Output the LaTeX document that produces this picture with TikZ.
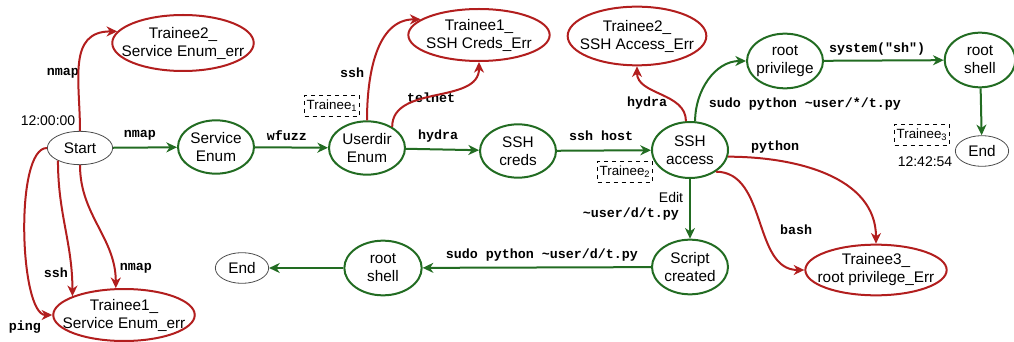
\documentclass[tikz,border=0pt]{standalone}
\usepackage{fontspec}
\setmainfont{Liberation Sans}
\setmonofont{Liberation Mono}
\usepackage{tikz}
\usetikzlibrary{positioning}
\usetikzlibrary{shapes.geometric}
\usetikzlibrary{arrows.meta}
\definecolor{errred}{RGB}{178,30,30}
\definecolor{okgreen}{RGB}{34,108,34}

\begin{document}
\begin{tikzpicture}[x=0.75pt, y=0.75pt,
    every node/.style={font=\fontsize{11.5}{13.5}\selectfont},
    okstate/.style={ellipse, draw=okgreen, line width=1.5pt, align=center, inner ysep=0pt, inner xsep=-4pt, minimum width=57pt, minimum height=40pt},
    errstate/.style={ellipse, draw=errred, line width=1.5pt, align=center, inner ysep=0pt, inner xsep=-8.5pt, minimum width=106pt, minimum height=40pt},
    endstate/.style={ellipse, draw=black!70, line width=0.6pt, inner sep=0pt, minimum width=40pt, minimum height=23pt},
    cmd/.style={font=\fontsize{10}{12}\selectfont\ttfamily\bfseries, inner sep=1pt},
    who/.style={draw, dashed, line width=0.5pt, font=\fontsize{10}{12}\selectfont, inner sep=1.5pt, minimum width=40pt, minimum height=16pt},
    good/.style={draw=okgreen, line width=1.5pt, -{Stealth[length=8pt, width=7.5pt, inset=2.5pt]}},
    bad/.style={draw=errred, line width=1.5pt, -{Stealth[length=8pt, width=7.5pt, inset=2.5pt]}}]

    \useasboundingbox (0,0) rectangle (1014,-342);

    % Nodes
    \node at (80,-148) (start) [endstate, minimum width=49pt, minimum height=25pt] {Start};
    \node at (216,-147) (senum) [okstate] {Service\\Enum};
    \node at (367,-148) (udenum) [okstate] {Userdir\\Enum};
    \node at (518,-151) (sshcreds) [okstate] {SSH\\creds};
    \node at (690,-150) (sshaccess) [okstate, minimum height=42pt] {SSH\\access};
    \node at (785,-61) (rootpriv) [okstate, minimum height=41pt] {root\\privilege};
    \node at (980,-60) (rootsh) [okstate, minimum width=53pt, minimum height=41pt] {root\\shell};
    \node at (982,-151) (endtop) [endstate] {End};
    \node at (690,-267) (script) [okstate, minimum height=41pt] {Script\\created};
    \node at (383,-268) (rootshb) [okstate, minimum width=58pt, minimum height=41pt] {root\\shell};
    \node at (242,-268) (endb) [endstate] {End};

    \node at (183,-43) (errsenumt) [errstate, minimum height=42pt] {Trainee2\_\\Service Enum\_err};
    \node at (124,-315) (errsenumb) [errstate, minimum height=39pt] {Trainee1\_\\Service Enum\_err};
    \node at (479,-35) (errcreds) [errstate, minimum height=39pt] {Trainee1\_\\SSH Creds\_Err};
    \node at (637,-36) (erraccess) [errstate, minimum width=104pt, minimum height=44pt] {Trainee2\_\\SSH Access\_Err};
    \node at (876,-270) (errroot) [errstate, minimum height=38pt] {Trainee3\_\\root privilege\_Err};

    % Times and trainees
    \node at (48,-121) (tstart) {\fontsize{10.5}{12}\selectfont 12:00:00};
    \node at (925,-162) (tend) {\fontsize{10.5}{12}\selectfont 12:42:54};
    \node at (332,-106) (who1) [who] {Trainee\textsubscript{1}};
    \node at (625,-172) (who2) [who] {Trainee\textsubscript{2}};
    \node at (922,-135) (who3) [who] {Trainee\textsubscript{3}};

    % Labels
    \node at (63,-73) (nmapup) [cmd] {nmap};
    \node at (140,-135) (nmapmain) [cmd] {nmap};
    \node at (287,-136) (wfuzz) [cmd] {wfuzz};
    \node at (352,-73) (sshup) [cmd] {ssh};
    \node at (431,-98) (telnet) [cmd] {telnet};
    \node at (438,-136) (hydramain) [cmd] {hydra};
    \node at (601,-136) (sshhost) [cmd] {ssh host};
    \node at (647,-103) (hydraup) [cmd] {hydra};
    \node at (805,-104) (sudostar) [cmd] {sudo python \textasciitilde user/*/t.py};
    \node at (877,-49) (system) [cmd] {system("sh")};
    \node at (775,-147) (python) [cmd] {python};
    \node at (796,-230) (bash) [cmd] {bash};
    \node at (671,-197) (edit) {\fontsize{10.5}{12}\selectfont Edit};
    \node at (631,-214) (editpath) [cmd] {\textasciitilde user/d/t.py};
    \node at (542,-255) (sudod) [cmd] {sudo python \textasciitilde user/d/t.py};
    \node at (56,-273) (sshdown) [cmd] {ssh};
    \node at (136,-268) (nmapdown) [cmd] {nmap};
    \node at (25,-327) (ping) [cmd] {ping};

    % Arrows
    \draw[good] (start) -- (senum);
    \draw[good] (senum) -- (udenum);
    \draw[good] (udenum) -- (sshcreds);
    \draw[good] (sshcreds) -- (sshaccess);
    \draw[good] (sshaccess.80) to[out=90, in=180] (rootpriv.west);
    \draw[good] (rootpriv) -- (rootsh);
    \draw[good] (rootsh) -- (endtop);
    \draw[good] (sshaccess) -- (script);
    \draw[good] (script) -- (rootshb);
    \draw[good] (rootshb) -- (endb);

    \draw[bad] (start.north) to[out=90, in=180, looseness=1.2] (errsenumt.170);
    \draw[bad] (start.south) to[out=-90, in=90] (errsenumb.107);
    \draw[bad] (start.210) to[out=-90, in=90] (errsenumb.160);
    \draw[bad] (start.west) to[out=180, in=180, looseness=0.5] (errsenumb.west);
    \draw[bad] (udenum.north) to[out=90, in=180] (errcreds.165);
    \draw[bad] (udenum.40) to[out=90, in=-90] (errcreds.south);
    \draw[bad] (sshaccess.98) to[out=90, in=-90] (erraccess.south);
    \draw[bad] (sshaccess.-10) to[out=0, in=90] (errroot.north);
    \draw[bad] (sshaccess.-40) to[out=0, in=180] (errroot.west);

\end{tikzpicture}
\end{document}
